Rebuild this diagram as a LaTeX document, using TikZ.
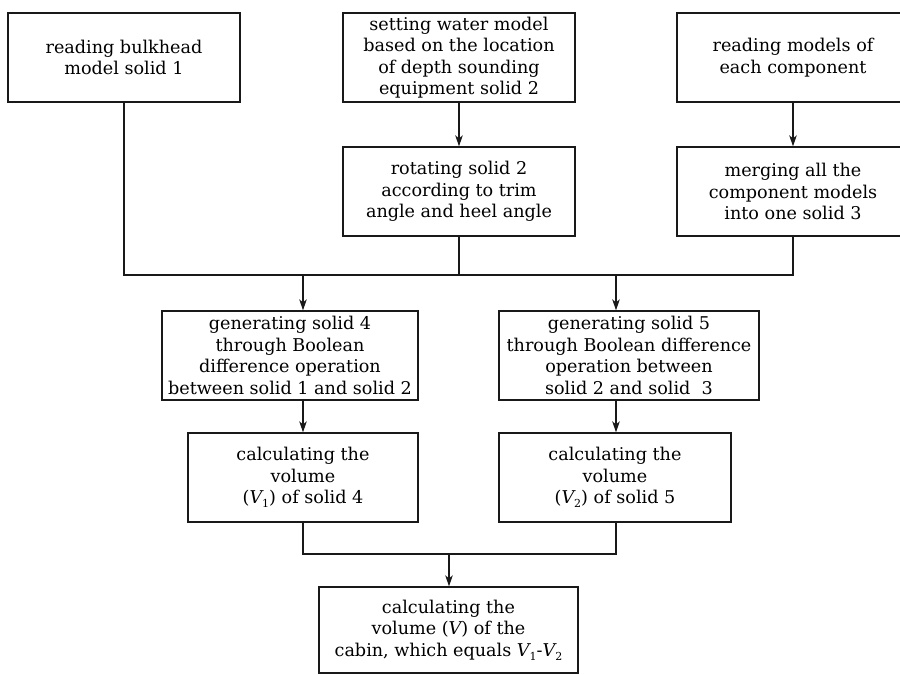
\documentclass[tikz,border=0pt]{standalone}
\usepackage{fontspec}
\setmainfont{DejaVu Serif}
\usetikzlibrary{arrows.meta}
\newcommand{\mysub}[1]{\raisebox{-0.4ex}{\fontsize{11pt}{12pt}\selectfont #1}}
\begin{document}
\begin{tikzpicture}[x=1pt,y=-1pt,
  box/.style={draw=black!90, line width=1.3pt, rectangle, align=center, inner sep=1pt,
    font=\fontsize{17.6pt}{21.5pt}\selectfont, minimum height=89pt},
  conn/.style={draw=black!90, line width=1.3pt},
  arr/.style={conn, -{Stealth[length=11pt,width=7.5pt,inset=3pt]}}]
\useasboundingbox (0,0) rectangle (900,675);
\node[box, minimum width=232pt] (A) at (124,57.5) {reading bulkhead\\model solid 1};
\node[box, minimum width=232pt] (B) at (459,57.5) {setting water model\\based on the location\\of depth sounding\\equipment solid 2};
\node[box, minimum width=232pt] (C) at (459,191.5) {rotating solid 2\\according to trim\\angle and heel angle};
\node[box, minimum width=232pt] (D) at (793,57.5) {reading models of\\each component};
\node[box, minimum width=232pt] (E) at (793,191.5) {merging all the\\component models\\into one solid 3};
\node[box, minimum width=256pt] (F) at (290,355.5) {generating solid 4\\through Boolean\\difference operation\\between solid 1 and solid 2};
\node[box, minimum width=260pt] (G) at (629,355.5) {generating solid 5\\through Boolean difference\\operation between\\solid 2 and solid\ \ 3};
\node[box, minimum width=230pt] (H) at (303,477.5) {calculating the\\volume\\({\itshape V}\mysub{1}) of solid 4};
\node[box, minimum width=232pt] (I) at (615,477.5) {calculating the\\volume\\({\itshape V}\mysub{2}) of solid 5};
\node[box, minimum width=259pt, minimum height=86pt] (J) at (448.5,630) {calculating the\\volume ({\itshape V}) of the\\cabin, which equals {\itshape V}\mysub{1}-{\itshape V}\mysub{2}};
\coordinate (j1) at (303,275);
\coordinate (j2) at (616,275);
\coordinate (j3) at (449,554);
\draw[arr] (B) -- (C);
\draw[arr] (D) -- (E);
\draw[conn] (A.south) |- (j1) -- (j2) -| (E.south);
\draw[conn] (C.south) -- (C.south |- j1);
\draw[arr] (j1) -- (j1 |- F.north);
\draw[arr] (j2) -- (j2 |- G.north);
\draw[arr] (j1 |- F.south) -- (j1 |- H.north);
\draw[arr] (j2 |- G.south) -- (j2 |- I.north);
\draw[conn] (H.south) |- (j3) -| (j2 |- I.south);
\draw[arr] (j3) -- (j3 |- J.north);
\end{tikzpicture}
\end{document}
